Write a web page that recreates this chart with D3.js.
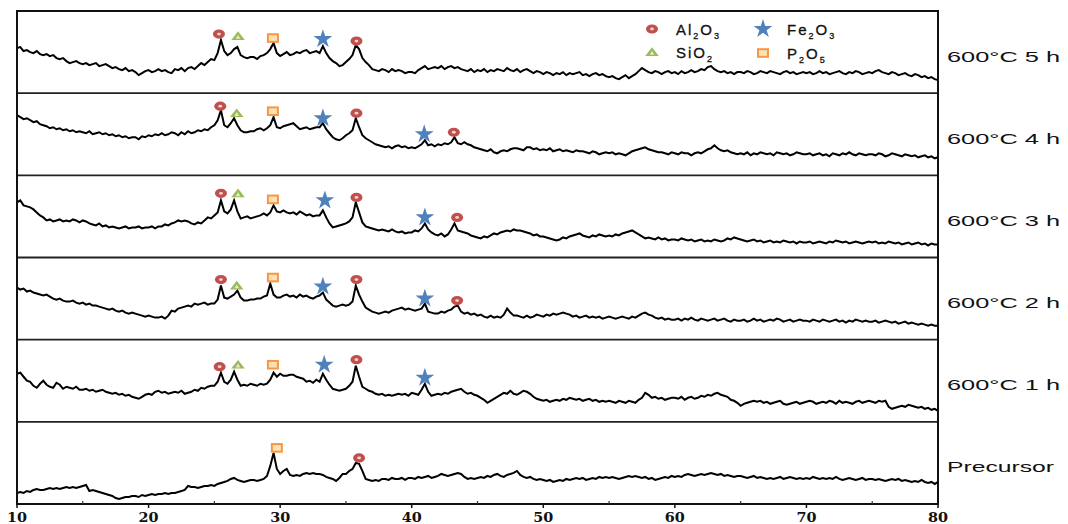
<!DOCTYPE html>
<html>
<head>
<meta charset="utf-8">
<script src="https://cdn.jsdelivr.net/npm/d3@7"></script>
<style>
  body { margin: 0; background: #fff; }
  svg { display: block; }
</style>
</head>
<body>
<svg id="chart" width="1068" height="524"></svg>
<script>
// XRD patterns, intensity sampled every 0.25° from 10° to 80° (2θ)
const thetaStart = 10;
const thetaStep = 0.25;

const h5 = [
  45,46,42,43,41,40,42,39,38,39,37,38,35,34,35,32,30,31,32,30,
  29,30,28,29,30,27,28,29,27,25,26,24,23,25,22,23,21,18,20,22,
  23,21,22,24,22,23,21,20,24,23,25,22,25,26,24,27,30,28,31,34,
  33,40,53,42,38,40,44,46,38,36,35,36,36,34,37,38,40,44,50,40,
  37,39,41,38,39,41,40,42,43,40,41,42,40,47,40,35,32,30,27,28,
  31,34,38,48,44,35,31,28,24,23,22,24,23,21,24,22,23,22,20,21,
  21,20,23,25,27,24,25,26,25,27,24,26,27,25,26,24,23,22,24,21,
  23,22,24,21,23,22,24,23,22,25,23,22,24,21,23,24,22,20,22,21,
  19,21,20,18,20,19,21,18,20,19,20,21,18,19,17,19,20,18,19,17,
  16,17,15,14,16,18,15,17,19,22,25,23,21,20,22,21,19,21,22,20,
  21,19,22,20,21,23,21,22,24,23,26,27,24,22,21,22,20,21,19,21,
  21,20,22,21,19,20,22,21,20,22,21,20,19,21,22,20,21,19,20,21,
  20,21,19,20,22,20,21,19,20,21,22,20,19,21,20,22,21,19,20,21,
  20,22,23,21,20,19,21,20,18,19,20,18,17,19,18,16,17,15,16,14,
  13
];
const h4 = [
  60,58,56,57,55,53,54,51,50,49,47,48,46,47,45,46,44,45,43,44,
  43,42,44,41,42,43,41,42,40,41,39,40,38,39,37,38,38,36,39,38,
  40,39,41,40,42,40,41,43,42,40,43,41,44,42,43,45,44,46,45,48,
  50,55,65,50,48,52,57,50,45,43,43,44,44,46,47,45,47,50,58,48,
  47,49,50,51,52,49,46,47,48,46,47,48,48,52,46,42,38,36,35,37,
  40,42,45,57,48,40,37,35,33,31,30,29,28,29,27,29,30,28,29,27,
  28,27,29,31,35,30,31,29,31,30,32,31,33,38,32,31,33,31,30,28,
  27,26,25,24,26,23,22,24,25,24,26,27,27,26,25,28,28,26,27,25,
  26,25,27,24,25,26,24,25,24,23,25,24,24,23,22,24,23,21,22,23,
  22,23,21,22,21,20,22,24,25,26,27,28,26,25,24,23,23,22,21,23,
  22,21,23,22,22,20,22,23,22,24,26,27,30,27,25,24,25,23,22,21,
  22,21,23,20,22,21,23,22,21,22,20,23,22,21,22,20,21,23,22,21,
  21,22,20,21,22,20,21,19,22,21,20,22,21,23,21,20,22,21,20,21,
  21,20,22,21,19,20,22,21,20,19,21,20,19,20,18,19,20,18,19,17,
  18
];
const h3 = [
  55,57,52,51,50,48,45,42,40,37,38,36,37,38,36,37,36,38,37,35,
  37,36,34,33,32,34,31,32,30,31,30,29,30,31,29,30,30,31,29,30,
  30,31,29,31,31,33,32,34,35,37,36,37,36,34,33,35,34,37,40,39,
  42,45,57,46,44,48,57,46,39,40,41,39,40,41,42,44,42,45,52,46,
  45,47,45,44,45,43,46,44,42,43,41,42,42,47,40,34,30,31,32,33,
  34,36,40,55,45,35,31,30,29,28,27,28,27,26,28,26,25,26,24,25,
  25,27,26,29,34,28,25,23,22,24,21,23,28,34,27,26,25,24,22,21,
  20,19,21,20,22,24,23,25,26,27,26,28,27,27,26,25,24,22,23,21,
  21,20,19,18,17,18,20,19,21,22,23,24,22,21,20,22,21,23,22,21,
  22,21,23,22,24,25,26,27,25,23,21,19,20,19,18,20,18,19,17,18,
  18,17,19,18,17,18,16,17,18,16,17,16,18,17,16,17,19,18,20,19,
  18,17,16,17,18,16,17,15,16,17,15,16,15,17,16,15,16,14,16,15,
  15,16,14,15,16,15,14,16,15,17,16,15,16,14,15,16,15,14,15,16,
  15,16,14,15,14,16,15,14,15,13,14,15,13,14,15,13,14,12,14,13,
  13
];
const h2 = [
  52,50,51,48,49,47,46,45,44,45,43,41,40,41,39,38,38,39,37,36,
  37,35,36,34,34,33,32,31,30,31,29,28,29,27,26,27,26,25,24,23,
  24,23,22,22,23,21,24,29,28,31,32,33,34,33,36,35,36,37,35,36,
  36,40,54,42,41,43,45,49,42,39,39,40,40,41,41,43,44,56,45,42,
  42,44,45,43,44,42,45,43,44,42,41,43,44,47,40,37,34,33,34,35,
  34,35,38,54,45,38,32,30,28,27,26,27,28,27,29,30,31,32,30,31,
  30,29,30,31,36,28,27,26,26,28,27,29,30,33,34,28,26,27,25,26,
  24,25,23,22,24,22,23,22,25,31,27,24,24,23,22,24,22,23,25,24,
  23,25,24,26,25,26,27,26,25,23,24,22,23,24,22,23,22,23,21,22,
  23,22,21,22,23,22,21,23,22,24,26,27,25,24,22,21,22,20,21,20,
  20,21,19,21,20,22,20,19,21,20,19,20,21,19,20,21,19,18,20,19,
  19,20,18,19,21,19,20,18,19,20,19,21,20,18,19,20,18,19,20,19,
  19,18,20,19,18,20,19,18,19,20,18,19,17,19,18,20,19,18,19,18,
  18,19,17,18,19,18,17,18,16,17,18,16,17,16,15,16,15,14,15,14,
  14
];
const h1 = [
  48,49,45,41,40,36,34,38,41,37,35,34,39,37,33,35,34,33,35,32,
  32,33,31,32,30,31,32,30,29,28,29,27,28,26,27,25,24,23,25,27,
  28,27,30,31,29,30,28,29,30,29,31,28,29,30,32,31,34,33,35,36,
  36,40,49,40,38,42,50,42,36,37,36,38,37,36,38,37,38,42,49,45,
  48,46,46,47,47,45,44,43,40,41,39,42,40,48,42,37,33,32,31,32,
  33,36,40,56,45,35,33,31,30,28,27,28,26,27,26,27,28,27,28,26,
  29,28,27,32,38,30,26,27,28,27,29,28,30,31,32,33,30,28,29,27,
  26,24,22,19,21,23,25,27,29,28,31,28,27,29,31,30,28,25,23,22,
  21,22,20,21,22,21,23,22,24,23,22,23,21,22,23,21,22,20,21,20,
  21,20,19,21,20,19,21,20,19,22,24,29,27,24,25,23,24,22,23,24,
  24,23,25,22,24,25,23,24,26,25,27,26,28,29,27,26,25,22,21,19,
  16,18,19,20,21,20,21,19,20,18,19,20,21,18,17,18,19,20,18,19,
  20,21,20,18,19,20,19,21,20,18,21,19,20,19,18,20,21,19,20,21,
  20,19,21,20,21,15,13,14,15,16,15,17,16,15,14,15,13,14,12,13,
  11
];
const precursor = [
  11,12,11,13,12,14,15,14,14,15,16,15,16,15,16,17,16,17,16,17,
  18,19,13,14,13,12,11,10,9,8,6,5,6,7,7,8,8,7,9,8,
  9,10,9,10,10,11,10,11,11,12,13,14,18,17,17,16,17,18,18,19,
  18,20,21,22,23,25,26,24,23,22,23,24,24,23,24,25,28,38,51,35,
  30,33,35,29,28,29,28,30,31,30,31,30,30,29,27,26,25,23,26,30,
  30,33,35,41,40,33,25,24,23,24,23,25,25,24,26,25,25,26,24,26,
  26,25,27,26,27,28,26,27,28,30,29,28,29,30,31,30,27,25,26,25,
  26,27,26,28,27,29,30,28,27,29,30,31,33,29,27,26,27,25,24,25,
  24,23,24,22,23,24,23,25,24,25,26,25,26,24,25,26,25,27,26,27,
  26,27,26,25,26,27,28,27,28,27,26,27,25,26,24,25,26,27,26,28,
  27,28,27,29,30,29,28,29,30,29,30,31,30,29,30,28,29,28,27,28,
  28,27,26,27,28,26,27,26,25,26,25,26,27,25,26,27,26,25,26,25,
  26,25,27,26,25,26,25,26,25,27,25,24,25,26,25,24,25,26,24,25,
  25,24,25,24,23,24,25,24,25,23,24,23,22,23,22,24,22,21,22,20,
  22
];

// top to bottom
const seriesList = [h5, h4, h3, h2, h1, precursor];
const panelLabels = ["600°C 5 h", "600°C 4 h", "600°C 3 h", "600°C 2 h", "600°C 1 h", "Precursor"];

// phase markers: [panel index, phase, 2θ, intensity]
const markers = [
  [0, "Al2O3", 25.35, 59], [0, "SiO2", 26.8, 57], [0, "P2O5", 29.45, 55], [0, "Fe2O3", 33.25, 54], [0, "Al2O3", 35.8, 52],
  [1, "Al2O3", 25.45, 69], [1, "SiO2", 26.7, 62], [1, "P2O5", 29.45, 64], [1, "Fe2O3", 33.25, 57], [1, "Al2O3", 35.8, 62],
  [1, "Fe2O3", 40.95, 41], [1, "Al2O3", 43.2, 43],
  [2, "Al2O3", 25.5, 64], [2, "SiO2", 26.8, 64], [2, "P2O5", 29.45, 58], [2, "Fe2O3", 33.4, 57], [2, "Al2O3", 35.8, 60],
  [2, "Fe2O3", 41.0, 40], [2, "Al2O3", 43.45, 40],
  [3, "Al2O3", 25.5, 60], [3, "SiO2", 26.7, 54], [3, "P2O5", 29.45, 62], [3, "Fe2O3", 33.25, 53], [3, "Al2O3", 35.8, 60],
  [3, "Fe2O3", 41.0, 41], [3, "Al2O3", 43.45, 39],
  [4, "Al2O3", 25.4, 55], [4, "SiO2", 26.8, 57], [4, "P2O5", 29.45, 57], [4, "Fe2O3", 33.35, 57], [4, "Al2O3", 35.8, 62],
  [4, "Fe2O3", 41.0, 44],
  [5, "P2O5", 29.75, 56], [5, "Al2O3", 36.0, 46]
];

const legendItems = [
  { phase: "Al2O3", parts: ["Al", "2", "O", "3"] },
  { phase: "Fe2O3", parts: ["Fe", "2", "O", "3"] },
  { phase: "SiO2", parts: ["SiO", "2"] },
  { phase: "P2O5", parts: ["P", "2", "O", "5"] }
];

const xTicks = [10, 20, 30, 40, 50, 60, 70, 80];
const xMinorTicks = [15, 25, 35, 45, 55, 65, 75];

const colors = {
  Al2O3: "#c0504d",
  SiO2: "#9bbb59",
  P2O5: "#f79646",
  Fe2O3: "#4f81bd"
};

const plotLeft = 17, plotRight = 938, plotTop = 11, plotBottom = 504;
const panelHeight = (plotBottom - plotTop) / seriesList.length;

const svg = d3.select("#chart");

const x = d3.scaleLinear().domain([10, 80]).range([plotLeft, plotRight]);
const y = d3.scaleLinear().domain([0, 82]).range([panelHeight, 0]);

const line = d3.line()
  .x((value, i) => x(thetaStart + i * thetaStep))
  .y((value) => y(value));

// Panels
seriesList.forEach((series, panelIndex) => {
  const panelTop = plotTop + panelIndex * panelHeight;
  const g = svg.append("g").attr("transform", `translate(0,${panelTop})`);

  g.append("path")
    .datum(series)
    .attr("fill", "none")
    .attr("stroke", "#000")
    .attr("stroke-width", 2)
    .attr("stroke-linejoin", "miter")
    .attr("d", line);

  svg.append("text")
    .attr("x", 947)
    .attr("y", panelTop + panelHeight / 2 + 9.5)
    .attr("textLength", panelIndex === 5 ? 107 : 113)
    .attr("lengthAdjust", "spacingAndGlyphs")
    .attr("font-family", "'Liberation Sans', Arial, sans-serif")
    .attr("font-size", 15)
    .attr("fill", "#111")
    .text(panelLabels[panelIndex]);
});

// Separators between panels
svg.selectAll(".separator")
  .data(d3.range(1, seriesList.length))
  .join("line")
  .attr("class", "separator")
  .attr("x1", plotLeft).attr("x2", plotRight)
  .attr("y1", (i) => plotTop + i * panelHeight)
  .attr("y2", (i) => plotTop + i * panelHeight)
  .attr("stroke", "#222")
  .attr("stroke-width", 1.8);

// Frame
svg.append("rect")
  .attr("x", plotLeft).attr("y", plotTop)
  .attr("width", plotRight - plotLeft).attr("height", plotBottom - plotTop)
  .attr("fill", "none")
  .attr("stroke", "#111")
  .attr("stroke-width", 2);

// Marker drawing
function drawMarker(sel, phase, cx, cy) {
  const color = colors[phase];
  const g = sel.append("g").attr("transform", `translate(${cx},${cy})`);
  if (phase === "Al2O3") {
    g.append("ellipse").attr("rx", 6).attr("ry", 4.6).attr("fill", color);
    g.append("ellipse").attr("rx", 1.9).attr("ry", 1.4).attr("fill", "#f6d4d2");
  } else if (phase === "SiO2") {
    g.append("path").attr("d", d3.symbol(d3.symbolTriangle, 60)()).attr("fill", color).attr("transform", "translate(0,1) scale(1.15,0.85)");
    g.append("path").attr("d", d3.symbol(d3.symbolTriangle, 9)()).attr("fill", "#e4edcc").attr("transform", "translate(0,1.5)");
  } else if (phase === "P2O5") {
    g.append("rect").attr("x", -5).attr("y", -3.8).attr("width", 10).attr("height", 7.6)
      .attr("fill", "#fde3b4").attr("stroke", color).attr("stroke-width", 2);
  } else {
    g.append("path").attr("d", d3.symbol(d3.symbolStar, 110)()).attr("fill", color);
  }
}

markers.forEach(([panelIndex, phase, theta, intensity]) => {
  const panelTop = plotTop + panelIndex * panelHeight;
  drawMarker(svg, phase, x(theta), panelTop + y(intensity));
});

// Legend
const legendPos = [[652, 29], [763, 29], [652, 52], [763, 53]];
legendItems.forEach((item, i) => {
  const [lx, ly] = legendPos[i];
  drawMarker(svg, item.phase, lx, ly);
  const text = svg.append("text")
    .attr("x", lx + 24)
    .attr("y", ly + 6)
    .attr("font-family", "'Liberation Sans', Arial, sans-serif")
    .attr("font-size", 15)
    .attr("letter-spacing", 2)
    .attr("stroke", "#111")
    .attr("stroke-width", 0.3)
    .attr("fill", "#111");
  item.parts.forEach((part, j) => {
    const isSub = /^\d$/.test(part);
    text.append("tspan")
      .attr("font-size", isSub ? 9 : 15)
      .attr("dy", isSub ? 4 : (j > 0 ? -4 : 0))
      .text(part);
  });
});

// X axis
const axisY = plotBottom;
const axisG = svg.append("g").attr("transform", `translate(0,${axisY})`);
axisG.selectAll(".major")
  .data(xTicks)
  .join("line")
  .attr("x1", (d) => x(d)).attr("x2", (d) => x(d))
  .attr("y1", 0).attr("y2", 4)
  .attr("stroke", "#111").attr("stroke-width", 1.5);
axisG.selectAll(".minor")
  .data(xMinorTicks)
  .join("line")
  .attr("x1", (d) => x(d)).attr("x2", (d) => x(d))
  .attr("y1", 0).attr("y2", -3)
  .attr("stroke", "#333").attr("stroke-width", 1.2);
axisG.selectAll(".tick-label")
  .data(xTicks)
  .join("text")
  .attr("x", (d) => x(d))
  .attr("y", 18)
  .attr("text-anchor", "middle")
  .attr("textLength", 20)
  .attr("lengthAdjust", "spacingAndGlyphs")
  .attr("font-family", "'DejaVu Serif', serif")
  .attr("font-weight", "bold")
  .attr("font-size", 13)
  .attr("fill", "#111")
  .text((d) => d);
</script>
</body>
</html>
